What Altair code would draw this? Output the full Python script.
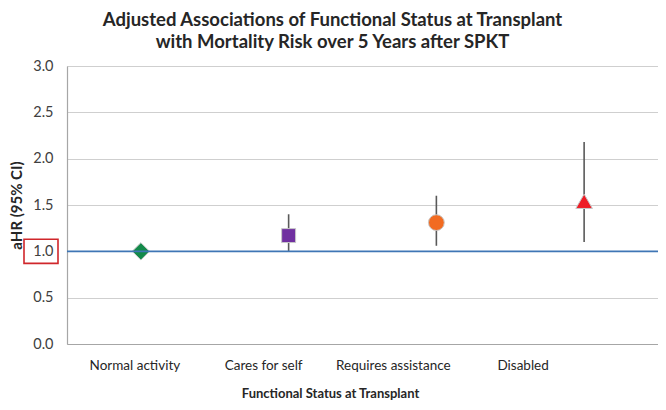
import altair as alt
import pandas as pd

categories = ["Normal activity", "Cares for self", "Requires assistance", "Disabled"]
ahr = [1.00, 1.17, 1.31, 1.54]
ci_low = [1.00, 1.00, 1.06, 1.10]
ci_high = [1.00, 1.40, 1.60, 2.18]
shapes = ["diamond", "square", "circle", "triangle-up"]
colors = ["#138a4a", "#7030a0", "#f26b21", "#ee1c25"]
y_ticks = [0.0, 0.5, 1.0, 1.5, 2.0, 2.5, 3.0]

df = pd.DataFrame({"cat": categories, "ahr": ahr, "lo": ci_low, "hi": ci_high})
ci_df = df[df["hi"] > df["lo"]]

FONT = "Lato"

# in the reference the category labels are spaced more tightly than the markers
label_offset = {
    "condition": [
        {"test": "datum.value === 'Normal activity'", "value": -6},
        {"test": "datum.value === 'Cares for self'", "value": -25},
        {"test": "datum.value === 'Requires assistance'", "value": -43},
    ],
    "value": -61,
}

x = alt.X("cat:N", sort=categories, scale=alt.Scale(domain=categories, paddingInner=0, paddingOuter=0),
          axis=alt.Axis(title="Functional Status at Transplant", labelAngle=0, tickSize=0,
                        labelPadding=14, titlePadding=16, labelFontSize=13.5, labelColor="#262626",
                        labelOffset=label_offset, titleX=263,
                        labelFont=FONT, titleFont=FONT, titleFontSize=13, titleFontWeight="bold",
                        titleColor="#262626", domainColor="#a6a6a6", domainWidth=1.2, grid=False))
y_scale = alt.Scale(domain=[0, 3], nice=False)

rules = alt.Chart(ci_df).mark_rule(color="#595959", strokeWidth=1.6).encode(
    x=x, y=alt.Y("lo:Q", scale=y_scale), y2="hi:Q")

marker_size = ("datum.cat === 'Normal activity' ? 300 : datum.cat === 'Cares for self' ? 195 : "
               "datum.cat === 'Requires assistance' ? 250 : 275")

points = alt.Chart(df).transform_calculate(msize=marker_size).mark_point(
    filled=True, opacity=1, stroke="#c8c8c8", strokeWidth=1).encode(
    x=x,
    y=alt.Y("ahr:Q", scale=y_scale,
            axis=alt.Axis(title="aHR (95% CI)", values=y_ticks, format=".1f", tickSize=0,
                          labelPadding=14, titlePadding=8, labelFontSize=14.5, labelColor="#404040",
                          labelFont=FONT, titleFont=FONT, titleFontSize=15, titleFontWeight="bold",
                          titleColor="#262626", domainColor="#a6a6a6", domainWidth=1.2,
                          gridColor="#cfcfcf", gridWidth=1.2)),
    shape=alt.Shape("cat:N", scale=alt.Scale(domain=categories, range=shapes), legend=None),
    color=alt.Color("cat:N", scale=alt.Scale(domain=categories, range=colors), legend=None),
    size=alt.Size("msize:Q", scale=None, legend=None),
)

ref = alt.Chart(pd.DataFrame({"y": [1.0]})).mark_rule(color="#3f76b5", strokeWidth=1.6).encode(
    y=alt.Y("y:Q", scale=y_scale))

box = alt.Chart(pd.DataFrame({"y": [0.87], "y2": [1.13]})).mark_rect(
    fill=None, stroke="#d0262b", strokeWidth=1.6).encode(
    x=alt.value(-43), x2=alt.value(-9), y=alt.Y("y:Q", scale=y_scale), y2="y2:Q")

chart = alt.layer(rules, points, ref, box).properties(
    width=591, height=278,
    autosize=alt.AutoSizeParams(type="none"),
    padding={"left": 59, "top": 58, "right": 0, "bottom": 58},
    title=alt.TitleParams(
        ["Adjusted Associations of Functional Status at Transplant",
         "with Mortality Risk over 5 Years after SPKT"],
        font=FONT, fontSize=18.5, fontWeight="bold", color="#262626",
        anchor="middle", dx=-30, offset=7, lineHeight=22),
).configure_view(stroke=None).configure(background="white")

chart.save("out.html", embed_options={"renderer": "svg", "actions": False})
